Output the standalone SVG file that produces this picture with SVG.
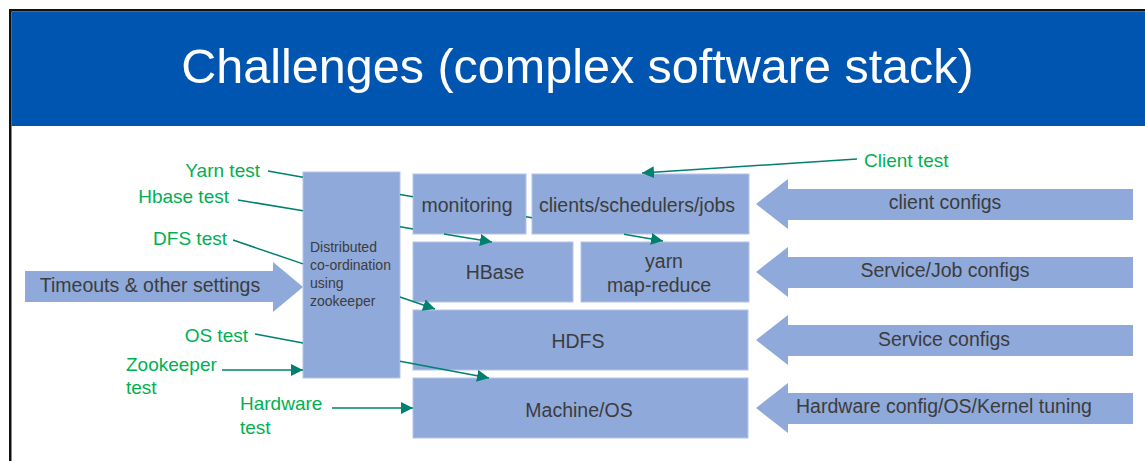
<svg xmlns="http://www.w3.org/2000/svg" width="1145" height="461" viewBox="0 0 1145 461">
<defs>
<style>
.box{fill:#8FA9DA;stroke:#B3C3E6;stroke-width:1}
.bt{font-family:"Liberation Sans",Arial,sans-serif;font-size:19.5px;fill:#3C3C3C;text-anchor:middle}
.st{font-family:"Liberation Sans",Arial,sans-serif;font-size:14px;fill:#3C3C3C}
.gt{font-family:"Liberation Sans",Arial,sans-serif;font-size:19px;fill:#00B050}
.ln{stroke:#00806E;stroke-width:1.5;fill:none}
.ah{fill:#8FA9DA}
</style>
<marker id="tip" markerUnits="userSpaceOnUse" markerWidth="13" markerHeight="12" refX="12" refY="6" orient="auto">
<path d="M0,0 L12,6 L0,12 z" fill="#00806E"/>
</marker>
</defs>
<rect x="0" y="0" width="1145" height="461" fill="#FFFFFF"/>
<g id="frame">
<rect x="9" y="9" width="1136" height="2.5" fill="#111"/>
<rect x="9" y="9" width="2.5" height="452" fill="#111"/>
<rect x="11.5" y="11.5" width="1133.5" height="114.5" fill="#0055B0"/>
<text x="577.5" y="83" font-family="'Liberation Sans',Arial,sans-serif" font-size="48.5" fill="#FFFFFF" text-anchor="middle">Challenges (complex software stack)</text>
</g>
<g id="timeouts">
<polygon class="ah" points="25,271 273,271 273,262 303,287 273,312 273,302 25,302"/>
<text class="bt" x="150" y="292">Timeouts &amp; other settings</text>
</g>
<g id="client-configs">
<polygon class="ah" points="756,204 788,179 788,189 1133,189 1133,220 788,220 788,229"/>
<text class="bt" x="945" y="209">client configs</text>
</g>
<g id="service-job-configs">
<polygon class="ah" points="756,272 788,247 788,257 1133,257 1133,288 788,288 788,297"/>
<text class="bt" x="945" y="277">Service/Job configs</text>
</g>
<g id="service-configs">
<polygon class="ah" points="756,340 788,315 788,325 1133,325 1133,356 788,356 788,365"/>
<text class="bt" x="944" y="346">Service configs</text>
</g>
<g id="hardware-configs">
<polygon class="ah" points="756,408 788,383 788,393 1133,393 1133,424 788,424 788,433"/>
<text class="bt" x="944" y="413">Hardware config/OS/Kernel tuning</text>
</g>
<g id="zookeeper">
<rect class="box" x="303" y="172" width="97" height="206"/>
<text class="st" x="310" y="252">Distributed</text>
<text class="st" x="310" y="270">co-ordination</text>
<text class="st" x="310" y="288">using</text>
<text class="st" x="310" y="306">zookeeper</text>
</g>
<g id="monitoring">
<rect class="box" x="413" y="174" width="113" height="60"/>
<text class="bt" x="467" y="212">monitoring</text>
</g>
<g id="clients">
<rect class="box" x="532" y="174" width="217" height="60"/>
<text class="bt" x="637" y="212">clients/schedulers/jobs</text>
</g>
<g id="hbase">
<rect class="box" x="413" y="242" width="160" height="60"/>
<text class="bt" x="495" y="279">HBase</text>
</g>
<g id="yarn">
<rect class="box" x="581" y="242" width="168" height="60"/>
<text class="bt" x="664" y="268">yarn</text>
<text class="bt" x="659" y="292">map-reduce</text>
</g>
<g id="hdfs">
<rect class="box" x="413" y="310" width="335" height="60"/>
<text class="bt" x="578" y="348">HDFS</text>
</g>
<g id="machine">
<rect class="box" x="413" y="378" width="335" height="60"/>
<text class="bt" x="579" y="417">Machine/OS</text>
</g>
<g id="labels">
<text class="gt" x="260" y="177" text-anchor="end">Yarn test</text>
<text class="gt" x="229" y="203" text-anchor="end">Hbase test</text>
<text class="gt" x="227" y="245" text-anchor="end">DFS test</text>
<text class="gt" x="248" y="342" text-anchor="end">OS test</text>
<text class="gt" x="126" y="371">Zookeeper</text>
<text class="gt" x="126" y="394">test</text>
<text class="gt" x="240" y="410">Hardware</text>
<text class="gt" x="240" y="434">test</text>
<text class="gt" x="864" y="167">Client test</text>
</g>
<g id="connectors">
<path class="ln" d="M268,171 L303,177.2 M400,194.4 L413,196.7 M526,216.7 L532,217.8"/>
<path class="ln" d="M624,234.2 L663,241" marker-end="url(#tip)"/>
<path class="ln" d="M238,200 L303,210.7 M400,226.7 L413,228.9"/>
<path class="ln" d="M444,234 L492,242" marker-end="url(#tip)"/>
<path class="ln" d="M233,240 L303,263.9"/>
<path class="ln" d="M400,297 L435,309" marker-end="url(#tip)"/>
<path class="ln" d="M255,334 L303,343"/>
<path class="ln" d="M400,361.3 L489,378" marker-end="url(#tip)"/>
<path class="ln" d="M857,159 L642,173" marker-end="url(#tip)"/>
<path class="ln" d="M222,370 L303,370" marker-end="url(#tip)"/>
<path class="ln" d="M332,408 L413,408" marker-end="url(#tip)"/>
</g>
</svg>
